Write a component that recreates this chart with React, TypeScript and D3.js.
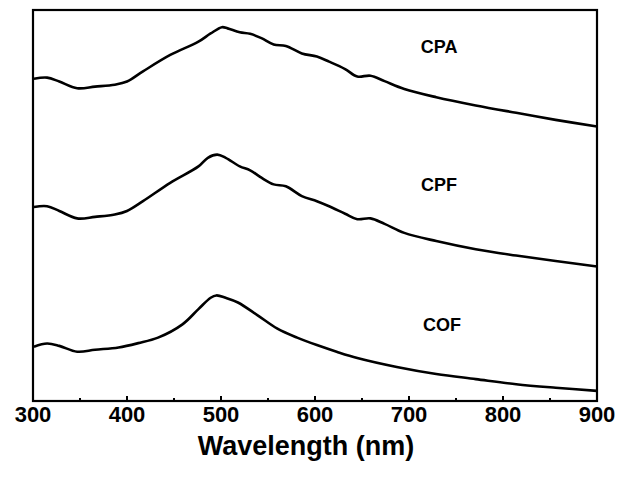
import React from "react";
import * as d3 from "d3";

const W = 619;
const H = 479;

// wavelength (nm) and relative absorbance (a.u., stacked offsets as in figure)
const cpaNm = [301, 315, 328, 347, 366, 387, 400, 417, 446, 476, 489, 501, 507, 520, 531, 543, 556, 569, 586, 602, 615, 632, 645, 659, 674, 695, 729, 771, 814, 856, 900];
const cpaVal = [0.824, 0.827, 0.817, 0.800, 0.804, 0.809, 0.817, 0.843, 0.885, 0.919, 0.940, 0.956, 0.953, 0.943, 0.939, 0.928, 0.912, 0.908, 0.889, 0.881, 0.868, 0.849, 0.830, 0.832, 0.818, 0.798, 0.777, 0.756, 0.737, 0.719, 0.702];

const cpfNm = [301, 315, 328, 347, 366, 387, 400, 417, 446, 476, 486, 496, 505, 520, 531, 543, 556, 569, 586, 602, 615, 632, 645, 659, 674, 695, 729, 771, 814, 856, 900];
const cpfVal = [0.496, 0.498, 0.486, 0.467, 0.471, 0.477, 0.486, 0.511, 0.558, 0.600, 0.622, 0.630, 0.622, 0.600, 0.590, 0.571, 0.554, 0.549, 0.524, 0.511, 0.498, 0.479, 0.465, 0.467, 0.453, 0.430, 0.409, 0.388, 0.372, 0.358, 0.344];

const cofNm = [301, 315, 328, 347, 366, 391, 412, 433, 459, 476, 489, 495, 505, 518, 539, 560, 581, 602, 623, 645, 687, 729, 771, 814, 856, 900];
const cofVal = [0.139, 0.147, 0.141, 0.126, 0.131, 0.137, 0.148, 0.162, 0.196, 0.235, 0.264, 0.270, 0.264, 0.252, 0.219, 0.185, 0.162, 0.143, 0.126, 0.110, 0.087, 0.069, 0.056, 0.043, 0.034, 0.026];

const seriesNames = ["CPA", "CPF", "COF"];
const labelNm = [732, 732, 735];
const labelVal = [0.89, 0.538, 0.18];

const xTicks = [300, 400, 500, 600, 700, 800, 900];
const xMinorTicks = [350, 450, 550, 650, 750, 850];
const xTitle = "Wavelength (nm)";

const margin = { left: 33, right: 22, top: 10, bottom: 78 };

export default function App() {
  const x = d3.scaleLinear().domain([300, 900]).range([margin.left, W - margin.right]);
  const y = d3.scaleLinear().domain([0, 1]).range([H - margin.bottom, margin.top]);
  const line = d3
    .line<[number, number]>()
    .x((d) => x(d[0]))
    .y((d) => y(d[1]))
    .curve(d3.curveCatmullRom.alpha(0.5));

  const series = [
    cpaNm.map((n, i) => [n, cpaVal[i]] as [number, number]),
    cpfNm.map((n, i) => [n, cpfVal[i]] as [number, number]),
    cofNm.map((n, i) => [n, cofVal[i]] as [number, number]),
  ];
  const y0 = y(0);
  const font = "Arial, 'Liberation Sans', sans-serif";

  return (
    <svg width={W} height={H} style={{ position: "fixed", left: 0, top: 0, background: "#fff" }}>
      <rect x={0} y={0} width={W} height={H} fill="#fff" />
      {series.map((s, i) => (
        <path key={i} d={line(s) || ""} fill="none" stroke="#000" strokeWidth={2.6} strokeLinejoin="round" />
      ))}
      <rect
        x={x(300)}
        y={y(1)}
        width={x(900) - x(300)}
        height={y(0) - y(1)}
        fill="none"
        stroke="#000"
        strokeWidth={2.2}
      />
      {xTicks.map((t) => (
        <g key={t}>
          <line x1={x(t)} x2={x(t)} y1={y0} y2={y0 - 5} stroke="#000" strokeWidth={2} />
          <text x={x(t)} y={y0 + 21} textAnchor="middle" fontFamily={font} fontWeight="bold" fontSize={22} fill="#000">
            {t}
          </text>
        </g>
      ))}
      {xMinorTicks.map((t) => (
        <line key={t} x1={x(t)} x2={x(t)} y1={y0} y2={y0 - 3} stroke="#000" strokeWidth={2} />
      ))}
      <text x={306} y={y0 + 54} textAnchor="middle" fontFamily={font} fontWeight="bold" fontSize={27} fill="#000">
        {xTitle}
      </text>
      {seriesNames.map((n, i) => (
        <text key={n} x={x(labelNm[i])} y={y(labelVal[i])} textAnchor="middle" fontFamily={font} fontWeight="bold" fontSize={18} fill="#000">
          {n}
        </text>
      ))}
    </svg>
  );
}
